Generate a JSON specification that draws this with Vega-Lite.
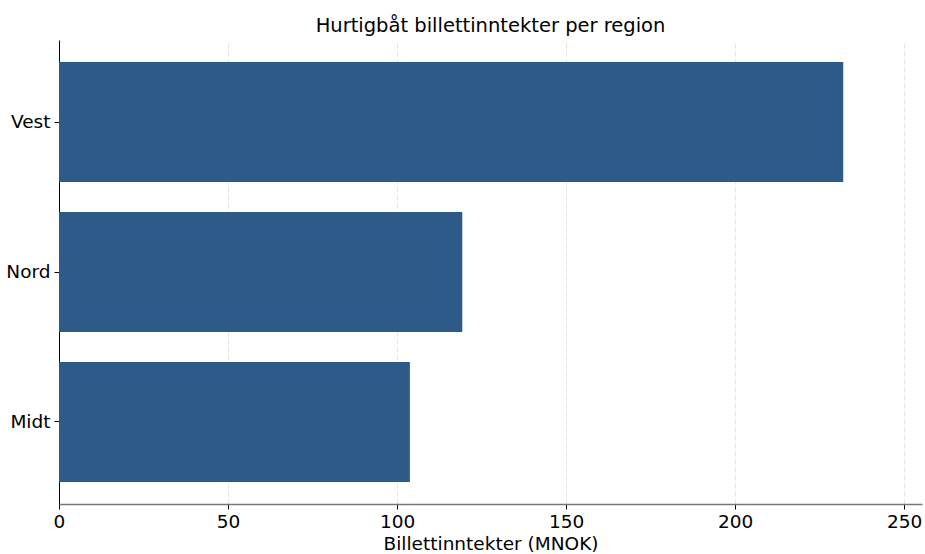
{
  "$schema": "https://vega.github.io/schema/vega-lite/v6.json",
  "width": 863,
  "height": 464,
  "autosize": {"type": "none"},
  "padding": {"left": 59, "top": 40, "right": 3, "bottom": 50},
  "background": "white",
  "title": {"text": "Hurtigbåt billettinntekter per region", "font": "DejaVu Sans", "fontSize": 19.5, "fontWeight": "normal", "color": "#000000", "offset": 4},
  "data": {"values": [
    {"region": "Vest", "inntekt": 232},
    {"region": "Nord", "inntekt": 119.3},
    {"region": "Midt", "inntekt": 103.8}
  ]},
  "mark": {"type": "bar", "color": "#2e5a8a"},
  "encoding": {
    "y": {"field": "region", "type": "nominal", "sort": ["Vest", "Nord", "Midt"],
      "scale": {"paddingInner": 0.2, "paddingOuter": 0.147},
      "axis": {"title": null, "labelFont": "DejaVu Sans", "labelFontSize": 18.5, "labelColor": "#000", "domainColor": "#000", "tickColor": "#000", "tickSize": 5, "labelPadding": 4, "grid": false}},
    "x": {"field": "inntekt", "type": "quantitative",
      "scale": {"domain": [0, 255.3], "nice": false, "zero": true},
      "axis": {"title": "Billettinntekter (MNOK)", "titleFont": "DejaVu Sans", "titleFontSize": 18.5, "titleFontWeight": "normal", "titleColor": "#000", "titlePadding": 4,
        "values": [0, 50, 100, 150, 200, 250], "labelFont": "DejaVu Sans", "labelFontSize": 18.5, "labelColor": "#000", "labelFlush": false, "labelPadding": 3,
        "domainColor": "#777", "domainWidth": 1.5, "tickColor": "#000", "tickSize": 5,
        "grid": true, "gridColor": "#dddddd", "gridDash": [5, 3], "gridWidth": 0.8}}
  },
  "config": {"view": {"stroke": null}}
}
